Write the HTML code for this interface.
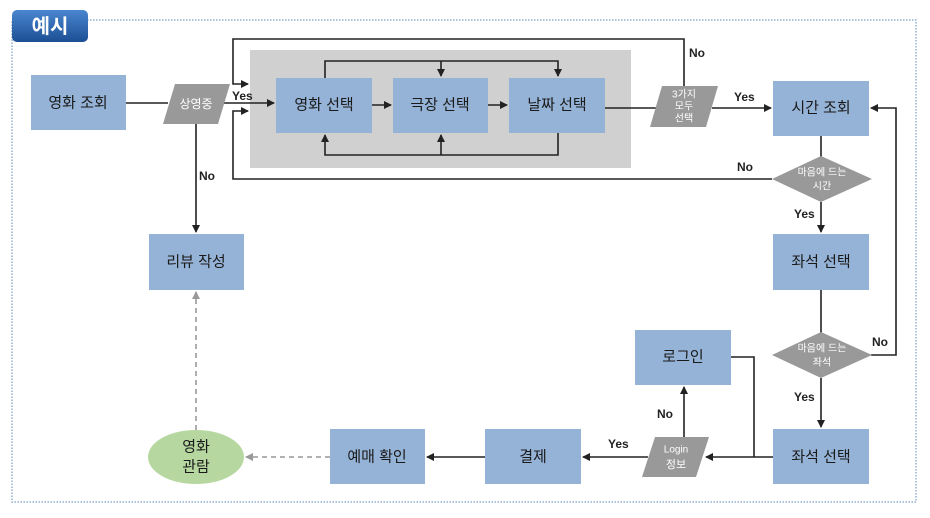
<!DOCTYPE html>
<html><head><meta charset="utf-8"><style>
html,body{margin:0;padding:0;background:#fff;}
svg{display:block;font-family:"Liberation Sans","Noto Sans CJK KR",sans-serif;}
.b{fill:#95b3d7;}
.t{font-size:15px;fill:#1a1a1a;text-anchor:middle;dominant-baseline:central;}
.l{font-size:12px;font-weight:bold;fill:#222;}
.g{fill:#999;}
.w{fill:#fff;font-size:10px;text-anchor:middle;dominant-baseline:central;}
.ln{stroke:#222;stroke-width:1.6;fill:none;}
</style></head><body>
<svg width="930" height="518" viewBox="0 0 930 518">
<defs>
<marker id="a" markerWidth="8" markerHeight="8" refX="7" refY="4" orient="auto" markerUnits="userSpaceOnUse"><path d="M0,0 L8,4 L0,8 z" fill="#222"/></marker>
<marker id="ag" markerWidth="8" markerHeight="8" refX="7" refY="4" orient="auto" markerUnits="userSpaceOnUse"><path d="M0,0 L8,4 L0,8 z" fill="#999"/></marker>
<linearGradient id="tg" x1="0" y1="0" x2="0" y2="1"><stop offset="0" stop-color="#4a86cf"/><stop offset="1" stop-color="#1b4f93"/></linearGradient>
</defs>
<rect x="12" y="20" width="904" height="482" fill="none" stroke="#7a9cc6" stroke-width="1.2" stroke-dasharray="1.5,1.5"/>
<rect x="12" y="10" width="76" height="32" rx="5" fill="url(#tg)"/>
<text x="50" y="27" font-size="20" font-weight="bold" fill="#fff" text-anchor="middle" dominant-baseline="central">예시</text>

<rect x="250" y="50" width="381" height="118" fill="#d0d0d0"/>

<!-- lines -->
<line class="ln" x1="126" y1="103" x2="168" y2="103"/>
<line class="ln" x1="224" y1="103" x2="274" y2="103" marker-end="url(#a)"/>
<polyline class="ln" points="684,86 684,39 233,39 233,84 248,84" marker-end="url(#a)"/>
<polyline class="ln" points="772,179 233,179 233,111 248,111" marker-end="url(#a)"/>
<polyline class="ln" points="325,78 325,61 558,61 558,76" marker-end="url(#a)"/>
<line class="ln" x1="441" y1="61" x2="441" y2="76" marker-end="url(#a)"/>
<polyline class="ln" points="558,133 558,155 325,155 325,135" marker-end="url(#a)"/>
<line class="ln" x1="441" y1="155" x2="441" y2="135" marker-end="url(#a)"/>
<line class="ln" x1="372" y1="105" x2="391" y2="105" marker-end="url(#a)"/>
<line class="ln" x1="488" y1="105" x2="507" y2="105" marker-end="url(#a)"/>
<line class="ln" x1="605" y1="108" x2="656" y2="108"/>
<line class="ln" x1="712" y1="108" x2="771" y2="108" marker-end="url(#a)"/>
<line class="ln" x1="821" y1="136" x2="821" y2="157"/>
<line class="ln" x1="821" y1="202" x2="821" y2="232" marker-end="url(#a)"/>
<line class="ln" x1="821" y1="290" x2="821" y2="333"/>
<polyline class="ln" points="871,355 896,355 896,108 871,108" marker-end="url(#a)"/>
<line class="ln" x1="821" y1="378" x2="821" y2="427" marker-end="url(#a)"/>
<line class="ln" x1="773" y1="457" x2="706" y2="457" marker-end="url(#a)"/>
<polyline class="ln" points="731,357 754,357 754,457"/>
<line class="ln" x1="684" y1="438" x2="684" y2="387" marker-end="url(#a)"/>
<line class="ln" x1="648" y1="457" x2="583" y2="457" marker-end="url(#a)"/>
<line class="ln" x1="485" y1="457" x2="427" y2="457" marker-end="url(#a)"/>
<line class="ln" x1="196" y1="124" x2="196" y2="232" marker-end="url(#a)"/>
<line x1="330" y1="457" x2="246" y2="457" stroke="#999" stroke-width="1.6" stroke-dasharray="5,4" marker-end="url(#ag)"/>
<line x1="196" y1="430" x2="196" y2="292" stroke="#999" stroke-width="1.6" stroke-dasharray="5,4" marker-end="url(#ag)"/>

<!-- boxes -->
<rect class="b" x="31" y="75" width="95" height="55"/><text class="t" x="78" y="103">영화 조회</text>
<rect class="b" x="276" y="78" width="96" height="55"/><text class="t" x="324" y="105">영화 선택</text>
<rect class="b" x="393" y="78" width="95" height="55"/><text class="t" x="440" y="105">극장 선택</text>
<rect class="b" x="509" y="78" width="96" height="55"/><text class="t" x="557" y="105">날짜 선택</text>
<rect class="b" x="773" y="81" width="96" height="55"/><text class="t" x="821" y="108">시간 조회</text>
<rect class="b" x="773" y="234" width="96" height="56"/><text class="t" x="821" y="262">좌석 선택</text>
<rect class="b" x="773" y="429" width="96" height="55"/><text class="t" x="821" y="457">좌석 선택</text>
<rect class="b" x="635" y="330" width="96" height="55"/><text class="t" x="683" y="357">로그인</text>
<rect class="b" x="485" y="429" width="96" height="55"/><text class="t" x="533" y="457">결제</text>
<rect class="b" x="330" y="429" width="95" height="55"/><text class="t" x="377" y="457">예매 확인</text>
<rect class="b" x="149" y="234" width="95" height="56"/><text class="t" x="196" y="262">리뷰 작성</text>
<ellipse cx="196" cy="457" rx="48" ry="27" fill="#b6d7a0"/>
<text class="t" x="196" y="447">영화</text><text class="t" x="196" y="467">관람</text>

<!-- decisions -->
<polygon class="g" points="175,84 230,84 218,124 163,124"/><text class="w" x="196" y="104" style="font-size:12px">상영중</text>
<polygon class="g" points="662,86 718,86 706,127 650,127"/>
<text class="w" x="684" y="95">3가지</text><text class="w" x="684" y="107">모두</text><text class="w" x="684" y="119">선택</text>
<polygon class="g" points="821,156 872,179 821,202 772,179"/>
<text class="w" x="822" y="173">마음에 드는</text><text class="w" x="822" y="187">시간</text>
<polygon class="g" points="821,332 872,355 821,378 772,355"/>
<text class="w" x="822" y="349">마음에 드는</text><text class="w" x="822" y="363">좌석</text>
<polygon class="g" points="655,437 709,437 696,477 642,477"/>
<text class="w" x="676" y="450">Login</text><text class="w" x="676" y="465" style="font-size:11px">정보</text>

<!-- labels -->
<text class="l" x="232" y="100">Yes</text>
<text class="l" x="199" y="180">No</text>
<text class="l" x="689" y="57">No</text>
<text class="l" x="734" y="101">Yes</text>
<text class="l" x="737" y="171">No</text>
<text class="l" x="794" y="218">Yes</text>
<text class="l" x="872" y="346">No</text>
<text class="l" x="794" y="401">Yes</text>
<text class="l" x="657" y="418">No</text>
<text class="l" x="608" y="448">Yes</text>
</svg>
</body></html>
